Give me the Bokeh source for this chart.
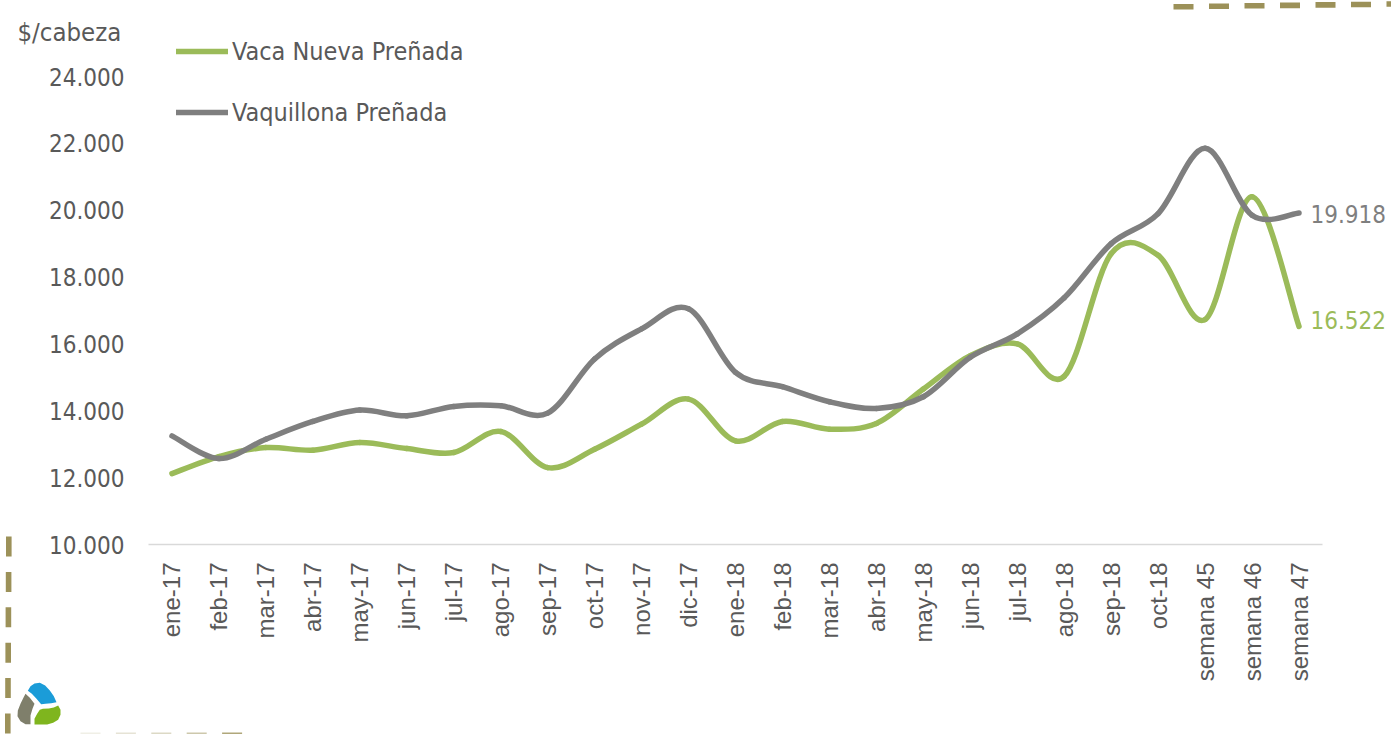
import numpy as np
from bokeh.embed import file_html
from bokeh.resources import INLINE
from bokeh.plotting import figure
from bokeh.models import (Range1d, FixedTicker, Label, Legend, LegendItem, PolyAnnotation,
                          ColumnDataSource)

months = ["ene-17","feb-17","mar-17","abr-17","may-17","jun-17","jul-17","ago-17","sep-17","oct-17",
          "nov-17","dic-17","ene-18","feb-18","mar-18","abr-18","may-18","jun-18","jul-18","ago-18",
          "sep-18","oct-18","semana 45","semana 46","semana 47"]
vaca = [12120,12630,12900,12820,13050,12870,12750,13380,12300,12850,13600,14350,13100,13680,13450,
        13620,14650,15650,16000,15030,18700,18650,16730,20400,16522]
vaquillona = [13250,12570,13150,13680,14020,13850,14130,14150,13930,15550,16450,17050,15150,14720,
              14270,14070,14420,15600,16300,17380,19000,19900,21850,19850,19918]
y_ticks = [10000,12000,14000,16000,18000,20000,22000,24000]

GREEN = "#9BBB59"; GREY = "#7F7F7F"; TXT = "#595959"; DASH = "#9C9159"
FONT = "DejaVu Sans Condensed"; AFONT = "Liberation Sans"

W, H = 1391, 734
FL, FR, FT, FB = 148, 1322, 76, 544     # plot area edges in pixels
ppx = (FR-FL)/25                         # pixels per category
ppy = (FB-FT)/14000                      # pixels per peso
x_lo = -0.5 - FL/ppx;           x_hi = -0.5 + (W-FL)/ppx
y_lo = 10000 - (H-FB)/ppy;      y_hi = 10000 + FB/ppy

p = figure(width=W, height=H, output_backend="svg", toolbar_location=None,
           x_range=Range1d(x_lo, x_hi), y_range=Range1d(y_lo, y_hi),
           min_border=0, outline_line_color=None, background_fill_color=None, border_fill_color=None)
p.grid.visible = False

ya = p.yaxis[0]
ya.fixed_location = -0.5
ya.bounds = (10000, 24000)
ya.ticker = FixedTicker(ticks=y_ticks)
ya.major_label_overrides = {t: f"{t:,}".replace(",", ".") for t in y_ticks}
ya.axis_line_color = None; ya.major_tick_line_color = None; ya.minor_tick_line_color = None
ya.major_label_text_font = FONT; ya.major_label_text_font_size = "24px"
ya.major_label_text_color = TXT; ya.major_label_standoff = 18

xa = p.xaxis[0]
xa.fixed_location = 10000
xa.bounds = (-0.5, 24.5)
xa.ticker = FixedTicker(ticks=list(range(len(months))))
xa.major_label_overrides = {i: m for i, m in enumerate(months)}
xa.axis_line_color = "#D9D9D9"; xa.axis_line_width = 1.5
xa.major_tick_line_color = None; xa.minor_tick_line_color = None
xa.major_label_orientation = np.pi/2
xa.major_label_text_font = AFONT; xa.major_label_text_font_size = "24px"
xa.major_label_text_color = TXT; xa.major_label_standoff = 12

def smooth(vals):
    """Bezier segments through the values, like a spreadsheet's smoothed line."""
    y = np.array(vals, float); x = np.arange(len(y), dtype=float)
    xm = np.r_[x[0], x[:-1]]; ym = np.r_[y[0], y[:-1]]
    xp = np.r_[x[1:], x[-1]]; yp = np.r_[y[1:], y[-1]]
    cx0 = x[:-1] + (xp[:-1]-xm[:-1])/6; cy0 = y[:-1] + (yp[:-1]-ym[:-1])/6
    cx1 = x[1:] - (xp[1:]-xm[1:])/6;   cy1 = y[1:] - (yp[1:]-ym[1:])/6
    return ColumnDataSource(dict(x0=x[:-1], y0=y[:-1], x1=x[1:], y1=y[1:], cx0=cx0, cy0=cy0, cx1=cx1, cy1=cy1))

r1 = p.bezier("x0","y0","x1","y1","cx0","cy0","cx1","cy1", source=smooth(vaca),
              line_color=GREEN, line_width=5.5, line_cap="round")
r2 = p.bezier("x0","y0","x1","y1","cx0","cy0","cx1","cy1", source=smooth(vaquillona),
              line_color=GREY, line_width=5.5, line_cap="round")

# window pixels -> the frame-relative "screen" coordinates annotations use
sx = lambda px: px
sy = lambda py: H - py

for label, r, cy in [("Vaca Nueva Preñada", r1, 51), ("Vaquillona Preñada", r2, 112)]:
    p.add_layout(Legend(items=[LegendItem(label=label, renderers=[r])],
                 location=(sx(176), sy(cy+15)), background_fill_alpha=0, border_line_color=None,
                 glyph_width=52, glyph_height=30, label_height=30, label_standoff=4, padding=0, margin=0,
                 label_text_font=FONT, label_text_font_size="25px", label_text_color=TXT))

def lab(x, y, t, c, size="24px"):
    p.add_layout(Label(x=sx(x), y=sy(y), x_units="screen", y_units="screen", text=t, text_color=c, text_font=FONT,
                       text_font_size=size, text_align="left", text_baseline="middle"))
lab(17, 31, "$/cabeza", TXT, "25.5px")
lab(1310, 213, f"{vaquillona[-1]:,}".replace(",", "."), GREY)
lab(1310, 319, f"{vaca[-1]:,}".replace(",", "."), GREEN)

def poly(xs, ys, c, alpha=1.0):
    p.add_layout(PolyAnnotation(xs=[sx(a) for a in xs], ys=[sy(a) for a in ys], xs_units="screen", ys_units="screen",
                                fill_color=c, fill_alpha=alpha, line_color=None))

# dashed frame fragments
for i in range(6):
    y0 = 536 + i*35.4; xc = 8.3 - i*0.2
    poly([xc-2.8, xc+2.8, xc+2.8, xc-2.8], [y0, y0, y0+20, y0+20], DASH)
for i in range(7):
    x0 = 1173 + i*35.5; yc = 6.2 - i*0.45
    poly([x0, x0+20, x0+20, x0], [yc-2.8, yc-2.8, yc+2.8, yc+2.8], DASH)
for i, a in enumerate([0.15, 0.25, 0.35, 0.5, 0.8]):
    x0 = 80 + i*35.4
    poly([x0, x0+20, x0+20, x0], [732, 732, 734, 734], DASH, a)

# logo (traced in a 3x crop whose corner is at 10,675)
lx = lambda v: [10 + a/3 for a in v]
ly = lambda v: [675 + a/3 for a in v]
poly(lx([52,60,72,88,104,118,130,138,122,105,92,78,64]), ly([46,32,24,22,30,45,62,80,83,85,86,70,55]), "#1B9CD8")
poly(lx([45,58,72,66,60,60,45,30,21,22,30,38]), ly([55,67,85,100,120,146,146,137,122,105,85,68]), "#7F7F6B")
poly(lx([97,115,130,143,150,150,143,128,110,72,72,80,88]), ly([100,99,96,90,103,118,133,142,147,147,130,115,103]), "#7FB51E")

open("out.html", "w").write(file_html(p, INLINE))
